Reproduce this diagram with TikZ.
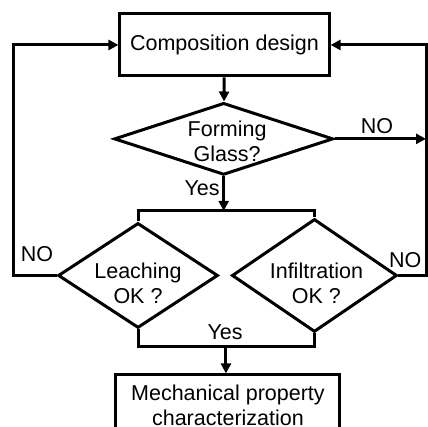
\documentclass[tikz,border=0pt]{standalone}
\usepackage{fontspec}
\setmainfont{Liberation Sans}
\usetikzlibrary{shapes.geometric,arrows.meta}

\begin{document}
\begin{tikzpicture}[
    line width=3pt,
    every node/.style={font=\fontsize{21.5}{25}\selectfont},
    procbox/.style={draw, rectangle, inner sep=0pt, align=center},
    decision/.style={draw, diamond, inner sep=0pt},
    flow/.style={-{Triangle[length=10pt,width=10pt]}}
  ]
    \clip (0,0) rectangle (15.04,14.97);

    % Boxes
    \node[procbox, minimum width=7.35cm, minimum height=2.18cm] (comp) at (7.89,13.39) {Composition design};

    \node[decision, minimum width=7.70cm, minimum height=2.53cm, label={[align=center, xshift=0.12cm, yshift=-0.1cm]center:Forming\\Glass?}] (form) at (7.86,10.09) {};

    \node[decision, minimum width=5.62cm, minimum height=3.69cm, label={[align=center, yshift=-0.28cm]center:Leaching\\OK ?}] (leach) at (4.85,5.29) {};

    \node[decision, minimum width=5.80cm, minimum height=3.97cm, label={[align=center, xshift=0.07cm, yshift=-0.28cm]center:Infiltration\\OK ?}] (infil) at (11.05,5.29) {};

    \node[procbox, minimum width=7.87cm, minimum height=2.11cm] (mech) at (8.01,0.74) {Mechanical property\\characterization};

    % Junctions
    \coordinate (split) at (7.86,7.56);
    \coordinate (join) at (7.94,2.78);
    \coordinate (lloop) at (0.46,5.29);
    \coordinate (rloop) at (14.97,5.29);

    % Arrows
    \draw[flow] (comp) -- (form);
    \draw[flow] (form.south) -- (split);
    \draw (leach.north) |- (split) -| (infil.north);
    \draw (leach.south) |- (join) -| (infil.south);
    \draw[flow] (join) -- (join |- mech.north);
    \draw[flow] (form.east) -- (form.east -| rloop);
    \draw[flow] (leach.west) -- (lloop) |- (comp.west);
    \draw[flow] (infil.east) -- (rloop) |- (comp.east);

    % Labels
    \node (yes1) at (7.10,8.37) {Yes};
    \node (yes2) at (7.91,3.30) {Yes};
    \node (no1) at (13.25,10.54) {NO};
    \node (no2) at (1.30,6.05) {NO};
    \node (no3) at (14.24,5.83) {NO};
\end{tikzpicture}
\end{document}
